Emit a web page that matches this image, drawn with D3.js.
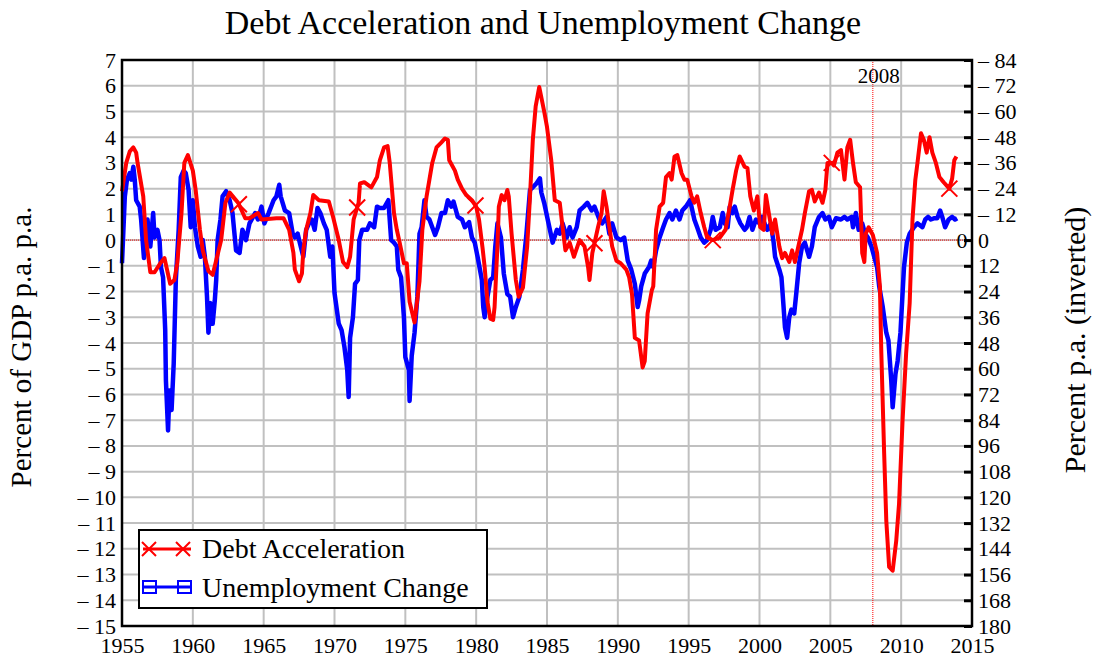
<!DOCTYPE html>
<html>
<head>
<meta charset="utf-8">
<script src="https://cdn.jsdelivr.net/npm/d3@7"></script>
<style>
  body { margin: 0; background: #fff; }
  svg text { font-family: "Liberation Serif", "Times New Roman", serif !important; }
</style>
</head>
<body>
<script>
// year ticks and axis ticks
const yearTicks = d3.range(1955, 2016, 5);
const leftTicks = d3.range(-15, 8, 1);
const rightTicks = d3.range(-84, 181, 12);
const crisisYear = 2008;

// Debt acceleration, percent of GDP p.a. p.a. [year, value]
const debtAcceleration = [
  [1955.0,1.9],[1955.3,3.0],[1955.55,3.45],[1955.8,3.6],[1956.0,3.4],[1956.1,3.0],[1956.5,1.7],[1956.7,0],
  [1957.0,-1.25],[1957.3,-1.25],[1957.7,-0.9],[1958.0,-0.7],[1958.4,-1.7],[1958.7,-1.55],[1958.9,-0.9],
  [1959.2,1.05],[1959.4,3.0],[1959.65,3.3],[1960.0,2.7],[1960.2,1.95],[1960.5,0.4],[1960.7,-0.4],
  [1961.1,-1.2],[1961.4,-1.35],[1961.6,-0.9],[1962.0,0],[1962.3,1.45],[1962.6,1.85],[1963.2,1.45],
  [1963.7,0.85],[1964.0,0.85],[1964.6,1.05],[1964.85,0.8],[1965.9,0.85],[1966.4,0.85],[1966.8,0.4],
  [1967.1,-0.5],[1967.2,-1.15],[1967.5,-1.6],[1967.7,-1.3],[1967.8,-0.4],[1968.0,0.4],[1968.3,1.05],
  [1968.5,1.75],[1968.9,1.55],[1969.6,1.5],[1969.9,0.9],[1970.3,0],[1970.6,-0.85],[1970.9,-1.05],
  [1971.1,-0.65],[1971.35,0.8],[1971.7,1.45],[1971.8,2.2],[1972.1,2.25],[1972.6,2.05],[1973.0,2.45],
  [1973.2,3.1],[1973.5,3.6],[1973.75,3.65],[1973.9,3.0],[1974.2,1.05],[1974.4,0.4],[1974.6,-0.1],
  [1974.9,-0.9],[1975.1,-0.9],[1975.3,-2.4],[1975.65,-3.2],[1976.0,-1.6],[1976.2,0.4],[1976.5,1.7],
  [1976.7,2.35],[1976.9,3.0],[1977.2,3.6],[1977.55,3.8],[1977.8,3.95],[1978.0,3.9],[1978.1,3.1],
  [1978.5,2.7],[1978.7,2.35],[1979.0,2.0],[1979.3,1.75],[1979.7,1.55],[1980.0,1.3],[1980.2,0.8],
  [1980.45,-0.3],[1980.6,-1.05],[1980.8,-2.4],[1981.0,-3.05],[1981.2,-3.1],[1981.3,-2.6],[1981.5,-0.25],
  [1981.6,1.3],[1981.8,1.75],[1982.0,1.55],[1982.2,1.95],[1982.3,1.7],[1982.5,0.25],[1982.8,-1.55],
  [1983.0,-2.2],[1983.3,-1.85],[1983.6,-0.25],[1983.8,1.7],[1984.0,3.9],[1984.2,5.2],[1984.45,5.95],
  [1984.6,5.55],[1984.8,5.0],[1985.0,4.4],[1985.3,3.1],[1985.55,1.55],[1985.9,1.45],[1986.1,0.5],
  [1986.3,-0.4],[1986.6,-0.1],[1986.9,-0.65],[1987.3,0],[1987.65,-0.25],[1987.9,-1.05],[1988.0,-1.55],
  [1988.2,-0.5],[1988.6,0.5],[1988.85,1.05],[1989.0,1.9],[1989.2,1.3],[1989.4,0.5],[1989.6,-0.25],
  [1989.9,-0.8],[1990.2,-0.9],[1990.6,-1.15],[1990.8,-1.45],[1991.0,-2.1],[1991.2,-3.8],[1991.5,-3.9],
  [1991.75,-4.95],[1991.9,-4.7],[1992.1,-2.85],[1992.4,-1.95],[1992.5,-1.8],[1992.7,0.4],[1992.95,1.3],
  [1993.2,1.45],[1993.4,2.45],[1993.65,2.6],[1993.8,2.35],[1994.0,3.25],[1994.2,3.3],[1994.5,2.6],
  [1994.7,2.35],[1994.9,2.35],[1995.2,1.7],[1995.4,1.45],[1995.6,1.7],[1995.85,1.05],[1996.1,0.5],
  [1996.3,0.1],[1996.7,0],[1997.2,0.1],[1997.6,0.4],[1997.9,1.3],[1998.1,1.95],[1998.35,2.7],
  [1998.6,3.25],[1998.95,2.85],[1999.15,2.8],[1999.35,1.7],[1999.6,1.15],[1999.85,1.7],[2000.05,0.5],
  [2000.3,0.4],[2000.45,1.75],[2000.7,0.9],[2000.9,0.25],[2001.1,0.8],[2001.4,-0.25],[2001.6,-0.7],
  [2001.8,-0.5],[2002.1,-0.85],[2002.3,-0.4],[2002.5,-0.85],[2002.8,-0.1],[2003.0,0.4],[2003.2,1.05],
  [2003.5,1.9],[2003.7,1.95],[2003.9,1.5],[2004.2,1.85],[2004.45,1.45],[2004.65,1.95],[2004.8,3.0],
  [2005.1,3.0],[2005.25,2.9],[2005.5,3.4],[2005.75,3.5],[2006.0,2.35],[2006.2,3.6],[2006.4,3.9],
  [2006.6,3.0],[2006.8,2.25],[2007.1,2.05],[2007.25,-0.5],[2007.4,-0.85],[2007.5,0.25],[2007.7,0.5],
  [2008.0,0.2],[2008.3,-0.5],[2008.5,-1.8],[2008.6,-4.4],[2008.8,-8.3],[2008.95,-10.9],[2009.15,-12.7],
  [2009.4,-12.85],[2009.65,-11.7],[2009.85,-10.25],[2010.1,-7.0],[2010.35,-4.4],[2010.6,-2.45],
  [2010.8,0.8],[2011.0,2.35],[2011.15,3.0],[2011.4,4.15],[2011.6,3.9],[2011.8,3.4],[2012.0,4.0],
  [2012.2,3.4],[2012.45,3.0],[2012.7,2.45],[2013.0,2.25],[2013.4,2.0],[2013.6,2.4],[2013.75,3.1],[2013.9,3.25]
];

// Unemployment change, percent p.a. (plotted on inverted right axis) [year, value]
const unemploymentChange = [
  [1955.0,10.8],[1955.2,-20.4],[1955.35,-28.2],[1955.55,-31.2],[1955.65,-28.2],[1955.8,-34.2],[1955.9,-28.2],
  [1956.0,-18.6],[1956.25,-15.6],[1956.35,-9.6],[1956.55,8.4],[1956.7,-4.8],[1956.8,-9.6],[1957.0,3],
  [1957.2,-12.6],[1957.3,-1.2],[1957.5,-4.8],[1957.65,0],[1957.75,12.6],[1957.9,17.4],[1958.05,42],
  [1958.1,65.4],[1958.25,88.8],[1958.35,70.2],[1958.5,79.2],[1958.65,57.6],[1958.8,18.6],[1959.0,-4.8],
  [1959.15,-29.4],[1959.35,-32.4],[1959.5,-31.2],[1959.7,-23.4],[1959.85,-6],[1960.0,-18.6],[1960.15,-6],
  [1960.35,3],[1960.55,7.8],[1960.7,0],[1960.85,7.8],[1961.0,26.4],[1961.1,43.2],[1961.25,29.4],
  [1961.4,39],[1961.55,28.2],[1961.65,18.6],[1961.75,0],[1961.95,-9.6],[1962.1,-20.4],[1962.35,-22.8],
  [1962.6,-18.6],[1962.8,-12.6],[1963.05,4.8],[1963.3,6],[1963.5,-4.8],[1963.75,0],[1964.0,-7.8],
  [1964.4,-12.6],[1964.6,-9.6],[1964.85,-15.6],[1965.05,-7.8],[1965.35,-12.6],[1965.7,-18.6],[1965.9,-20.4],
  [1966.1,-25.8],[1966.2,-20.4],[1966.5,-13.8],[1966.8,-12.6],[1967.05,-3],[1967.2,-1.2],[1967.4,-3],
  [1967.55,1.2],[1967.8,7.8],[1968.0,-4.8],[1968.2,-7.8],[1968.4,-9.6],[1968.6,-4.8],[1968.8,-15],
  [1969.0,-12.6],[1969.25,-7.8],[1969.45,-4.8],[1969.7,7.8],[1969.85,3],[1970.0,24.6],[1970.3,39],
  [1970.5,42],[1970.7,49.8],[1970.9,60.6],[1971.0,73.2],[1971.1,45.6],[1971.3,36],[1971.45,20.4],
  [1971.65,18.6],[1971.75,0],[1971.95,-4.8],[1972.3,-4.8],[1972.5,-7.8],[1972.8,-6],[1973.0,-15.6],
  [1973.2,-15],[1973.5,-15],[1973.8,-18.6],[1974.0,0],[1974.2,1.2],[1974.4,3],[1974.5,13.8],[1974.7,17.4],
  [1974.9,36],[1975.0,54.6],[1975.25,60.6],[1975.3,75],[1975.45,54],[1975.65,43.2],[1975.85,26.4],
  [1976.0,-3],[1976.15,-6],[1976.35,-18.6],[1976.5,-10.8],[1976.7,-9.6],[1976.9,-6],[1977.1,-2.4],
  [1977.3,-6],[1977.55,-12.6],[1977.8,-12.6],[1978.0,-18.6],[1978.25,-15.6],[1978.4,-18],[1978.7,-10.8],
  [1979.0,-9.6],[1979.2,-6],[1979.5,-8.4],[1979.7,-1.2],[1979.9,1.2],[1980.1,7.8],[1980.4,18.6],
  [1980.5,31.2],[1980.6,36],[1980.8,26.4],[1981.0,18.6],[1981.2,17.4],[1981.35,3],[1981.5,-7.8],
  [1981.75,-1.2],[1981.95,15.6],[1982.2,25.2],[1982.4,26.4],[1982.6,36],[1982.8,31.2],[1983.05,26.4],
  [1983.3,13.8],[1983.55,-3],[1983.8,-23.4],[1984.0,-24.6],[1984.25,-26.4],[1984.5,-28.8],[1984.6,-22.2],
  [1984.8,-17.4],[1985.05,-9.6],[1985.4,1.2],[1985.7,-4.8],[1985.9,-3],[1986.1,-7.8],[1986.4,-1.2],
  [1986.6,-6],[1986.8,-1.2],[1987.1,-6],[1987.3,-13.8],[1987.6,-15.6],[1987.85,-17.4],[1988.15,-13.8],
  [1988.35,-15.6],[1988.7,-9.6],[1988.9,-7.8],[1989.2,-10.8],[1989.4,-3],[1989.6,-7.8],[1989.9,-1.2],
  [1990.2,0],[1990.45,-1.2],[1990.7,9.6],[1990.95,13.8],[1991.2,20.4],[1991.4,31.2],[1991.5,28.2],
  [1991.65,21.6],[1991.9,15.6],[1992.2,12.6],[1992.35,9.6],[1992.5,12.6],[1992.7,4.8],[1992.95,-1.2],
  [1993.2,-6],[1993.4,-9.6],[1993.65,-12.6],[1993.85,-9.6],[1994.1,-13.8],[1994.35,-9.6],[1994.55,-13.8],
  [1994.8,-15.6],[1995.1,-18.6],[1995.4,-9.6],[1995.6,-6],[1995.85,-1.2],[1996.1,1.2],[1996.3,0],
  [1996.55,-4.8],[1996.7,-10.8],[1996.9,-4.8],[1997.2,-6],[1997.4,-12.6],[1997.55,-7.8],[1997.75,-6],
  [1997.9,-15.6],[1998.1,-12.6],[1998.25,-15.6],[1998.45,-10.8],[1998.65,-7.8],[1998.95,-4.8],[1999.1,-6],
  [1999.3,-10.8],[1999.5,-4.8],[1999.75,-9.6],[2000.0,-7.8],[2000.2,-10.8],[2000.35,-7.8],[2000.55,-4.8],
  [2000.8,-7.8],[2001.0,1.2],[2001.1,7.8],[2001.4,13.8],[2001.55,17.4],[2001.7,31.2],[2001.8,40.8],
  [2001.95,45.6],[2002.1,36],[2002.25,32.4],[2002.45,34.2],[2002.6,24.6],[2002.8,10.8],[2003.0,3],
  [2003.2,1.2],[2003.5,7.8],[2003.7,3],[2003.9,-6],[2004.2,-10.8],[2004.45,-12.6],[2004.65,-9.6],
  [2004.9,-10.8],[2005.1,-6],[2005.4,-10.2],[2005.75,-9.6],[2006.0,-10.8],[2006.2,-9.6],[2006.5,-10.8],
  [2006.6,-6],[2006.8,-12.6],[2007.0,-4.8],[2007.25,-7.8],[2007.45,-3],[2007.65,-1.2],[2007.9,3],
  [2008.1,7.8],[2008.3,12.6],[2008.45,21.6],[2008.7,31.2],[2008.95,43.2],[2009.1,46.8],[2009.3,65.4],
  [2009.4,78],[2009.6,62.4],[2009.75,56.4],[2009.95,43.2],[2010.1,24.6],[2010.2,12.6],[2010.4,1.2],
  [2010.6,-3],[2010.9,-6],[2011.15,-7.8],[2011.5,-6],[2011.7,-9.6],[2011.9,-10.8],[2012.1,-9.6],
  [2012.35,-10.2],[2012.55,-10.2],[2012.75,-13.8],[2012.9,-10.8],[2013.1,-6],[2013.35,-9.6],
  [2013.6,-10.8],[2013.8,-9.6],[2013.95,-10.2]
];

// years where the debt series carries an X marker
const debtMarkerYears = [1963.25, 1971.6, 1979.95, 1988.35, 1996.7, 2005.1, 2013.4];

const W = 1093, H = 660;
const plot = { left: 122, right: 972, top: 60, bottom: 626 };
const serif = "Liberation Serif";

const svg = d3.select("body").append("svg")
  .attr("width", W)
  .attr("height", H)
  .attr("font-family", serif);

const x = d3.scaleLinear().domain([1955, 2015]).range([plot.left, plot.right]);
const y = d3.scaleLinear().domain([-15, 7]).range([plot.bottom, plot.top]);
const y2 = d3.scaleLinear().domain([180, -84]).range([plot.bottom, plot.top]);

const minus = d => d < 0 ? "\u2013 " + (-d) : String(d);

// grid
svg.append("g")
  .selectAll("line")
  .data(leftTicks)
  .enter().append("line")
  .attr("x1", plot.left).attr("x2", plot.right)
  .attr("y1", d => y(d)).attr("y2", d => y(d))
  .attr("stroke", "#c0c0c0").attr("stroke-width", 2);

svg.append("g")
  .selectAll("line")
  .data(yearTicks)
  .enter().append("line")
  .attr("x1", d => x(d)).attr("x2", d => x(d))
  .attr("y1", plot.top).attr("y2", plot.bottom)
  .attr("stroke", "#c0c0c0").attr("stroke-width", 2);

// zero line and 2008 marker
svg.append("line")
  .attr("x1", plot.left).attr("x2", plot.right)
  .attr("y1", y(0)).attr("y2", y(0))
  .attr("stroke", "#ff0000").attr("stroke-width", 1)
  .attr("stroke-dasharray", "1,1");
svg.append("line")
  .attr("x1", x(crisisYear)).attr("x2", x(crisisYear))
  .attr("y1", plot.top).attr("y2", plot.bottom)
  .attr("stroke", "#ff0000").attr("stroke-width", 1)
  .attr("stroke-dasharray", "1,1");
svg.append("text")
  .attr("x", x(crisisYear) + 6).attr("y", 83)
  .attr("text-anchor", "middle")
  .attr("font-size", 21)
  .text(crisisYear);

// series
const debtLine = d3.line().x(d => x(d[0])).y(d => y(d[1]));
const unempLine = d3.line().x(d => x(d[0])).y(d => y2(d[1]));

svg.append("path")
  .datum(unemploymentChange)
  .attr("d", unempLine)
  .attr("fill", "none")
  .attr("stroke", "#0000ff")
  .attr("stroke-width", 4.5)
  .attr("stroke-linejoin", "round");

svg.append("path")
  .datum(debtAcceleration)
  .attr("d", debtLine)
  .attr("fill", "none")
  .attr("stroke", "#ff0000")
  .attr("stroke-width", 4)
  .attr("stroke-linejoin", "round");

// X markers on the debt line
const bis = d3.bisector(d => d[0]).left;
const debtAt = yr => {
  const i = Math.max(1, Math.min(debtAcceleration.length - 1, bis(debtAcceleration, yr)));
  const a = debtAcceleration[i - 1], b = debtAcceleration[i];
  const t = (yr - a[0]) / (b[0] - a[0]);
  return a[1] + (b[1] - a[1]) * t;
};
const xMark = (g, cx, cy, r) => {
  g.append("path")
    .attr("d", `M${cx - r},${cy - r}L${cx + r},${cy + r}M${cx - r},${cy + r}L${cx + r},${cy - r}`)
    .attr("stroke", "#ff0000").attr("stroke-width", 2).attr("fill", "none");
};
const markG = svg.append("g");
debtMarkerYears.forEach(yr => xMark(markG, x(yr), y(debtAt(yr)), 8));

// frame
svg.append("rect")
  .attr("x", plot.left).attr("y", plot.top)
  .attr("width", plot.right - plot.left).attr("height", plot.bottom - plot.top)
  .attr("fill", "none").attr("stroke", "#000").attr("stroke-width", 2.5);

// axes
const leftAxis = svg.append("g")
  .attr("transform", `translate(${plot.left},0)`)
  .call(d3.axisLeft(y).tickValues(leftTicks).tickSize(0).tickPadding(6).tickFormat(minus));
const rightAxis = svg.append("g")
  .attr("transform", `translate(${plot.right},0)`)
  .call(d3.axisRight(y2).tickValues(rightTicks).tickSize(0).tickPadding(6).tickFormat(minus));
const rightTickMarks = svg.append("g")
  .attr("transform", `translate(${plot.right},0)`)
  .call(d3.axisLeft(y2).tickValues(rightTicks).tickSize(8).tickFormat(""));
const bottomAxis = svg.append("g")
  .attr("transform", `translate(0,${plot.bottom})`)
  .call(d3.axisBottom(x).tickValues(yearTicks).tickSize(0).tickPadding(11).tickFormat(d3.format("d")));

[leftAxis, rightAxis, bottomAxis, rightTickMarks].forEach(g => g.select(".domain").remove());
[leftAxis, rightAxis, bottomAxis].forEach(g => {
  g.attr("font-family", serif).attr("font-size", 22);
  g.selectAll("text").attr("fill", "#000");
});
rightTickMarks.selectAll("line").attr("stroke", "#000").attr("stroke-width", 3);

// right-side "0" next to the zero line
svg.append("text")
  .attr("x", plot.right - 10).attr("y", y(0) + 8)
  .attr("text-anchor", "middle")
  .attr("font-size", 22)
  .text("0");

// titles
svg.append("text")
  .attr("x", 543).attr("y", 34)
  .attr("text-anchor", "middle")
  .attr("font-size", 34)
  .text("Debt Acceleration and Unemployment Change");

svg.append("text")
  .attr("transform", `translate(31,347) rotate(-90)`)
  .attr("text-anchor", "middle")
  .attr("font-size", 29)
  .text("Percent of GDP p.a. p.a.");

svg.append("text")
  .attr("transform", `translate(1085,340) rotate(-90)`)
  .attr("text-anchor", "middle")
  .attr("font-size", 30)
  .text("Percent p.a. (inverted)");

// legend
const legend = svg.append("g").attr("transform", "translate(139,530)");
legend.append("rect")
  .attr("width", 348).attr("height", 78)
  .attr("fill", "#fff").attr("stroke", "#000").attr("stroke-width", 2);

legend.append("line")
  .attr("x1", 4).attr("x2", 52).attr("y1", 19).attr("y2", 19)
  .attr("stroke", "#ff0000").attr("stroke-width", 3);
[10, 44].forEach(cx => xMark(legend, cx, 19, 7));
legend.append("text")
  .attr("x", 63).attr("y", 28)
  .attr("font-size", 28)
  .text("Debt Acceleration");

legend.append("line")
  .attr("x1", 4).attr("x2", 52).attr("y1", 57).attr("y2", 57)
  .attr("stroke", "#0000ff").attr("stroke-width", 3);
[4, 39].forEach(rx => legend.append("rect")
  .attr("x", rx).attr("y", 51).attr("width", 13).attr("height", 12)
  .attr("fill", "none").attr("stroke", "#0000ff").attr("stroke-width", 2));
legend.append("text")
  .attr("x", 63).attr("y", 67)
  .attr("font-size", 28)
  .text("Unemployment Change");
</script>
</body>
</html>
